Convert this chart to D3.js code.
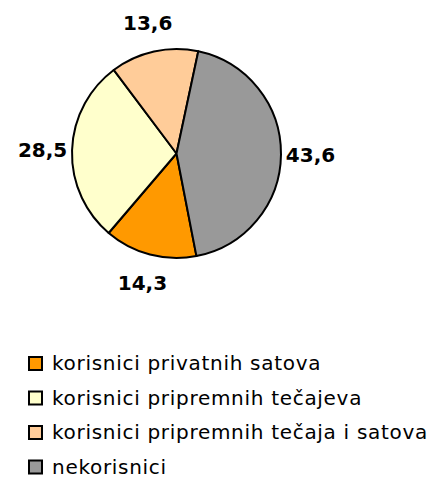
<!DOCTYPE html>
<head lang="en">
<meta charset="utf-8">
<title>Korisnici privatnih satova i pripremnih tečajeva</title>
<style>
body {
	margin: 0;
	background: #fff;
}
* {
	font-family: "DejaVu Sans", sans-serif;
}
</style>
<script src="https://cdn.jsdelivr.net/npm/d3@7"></script>
</head>
<body>
<div id="chart"></div>
<script>
// Slice data, in legend order
var categories = ['korisnici privatnih satova',
                  'korisnici pripremnih tečajeva',
                  'korisnici pripremnih tečaja i satova',
                  'nekorisnici'];
var values = [14.3, 28.5, 13.6, 43.6];
var valueLabels = ['14,3', '28,5', '13,6', '43,6'];
var colors = ['#FF9900', '#FFFFCC', '#FFCC99', '#999999'];

var width = 433,
    height = 480;
var cx = 176.5, cy = 153.5, radius = 104.5;

var data = categories.map(function(c, i) {
    return { name: c, value: values[i], label: valueLabels[i], color: colors[i] };
});

var svg = d3.select("#chart").append("svg")
    .attr("width", width)
    .attr("height", height);

// first slice (orange) starts a bit past 6 o'clock
var startAngle = 169 * Math.PI / 180;
var pie = d3.pie()
    .sort(null)
    .value(function(d) { return d.value; })
    .startAngle(startAngle)
    .endAngle(startAngle + 2 * Math.PI);

var arc = d3.arc().innerRadius(0).outerRadius(radius);
var labelArc = d3.arc().innerRadius(134).outerRadius(134);

var g = svg.append("g")
    .attr("transform", "translate(" + cx + "," + cy + ")");

g.selectAll("path")
    .data(pie(data))
    .enter()
    .append("path")
        .attr("d", arc)
        .style("fill", function(d) { return d.data.color; })
        .style("stroke", "#000")
        .style("stroke-width", "2px")
        .style("stroke-linejoin", "round");

g.selectAll("text")
    .data(pie(data))
    .enter()
    .append("text")
        .attr("x", function(d) { return labelArc.centroid(d)[0]; })
        .attr("y", function(d) { return labelArc.centroid(d)[1]; })
        .attr("dy", "0.36em")
        .attr("text-anchor", "middle")
        .style("font-size", "20px")
        .style("font-weight", "bold")
        .style("fill", "#000")
        .text(function(d) { return d.data.label; });

// legend
var legend = svg.selectAll("g.legend")
    .data(data)
    .enter()
    .append("g")
        .attr("class", "legend")
        .attr("transform", function(d, i) { return "translate(29," + (357 + i * 34.5) + ")"; });

legend.append("rect")
    .attr("width", 13)
    .attr("height", 13)
    .style("fill", function(d) { return d.color; })
    .style("stroke", "#000")
    .style("stroke-width", "2px");

legend.append("text")
    .attr("x", 23)
    .attr("y", 7)
    .attr("dy", "0.32em")
    .style("font-size", "20px")
    .style("letter-spacing", "0.7px")
    .style("fill", "#000")
    .text(function(d) { return d.name; });
</script>
</body>
</html>
